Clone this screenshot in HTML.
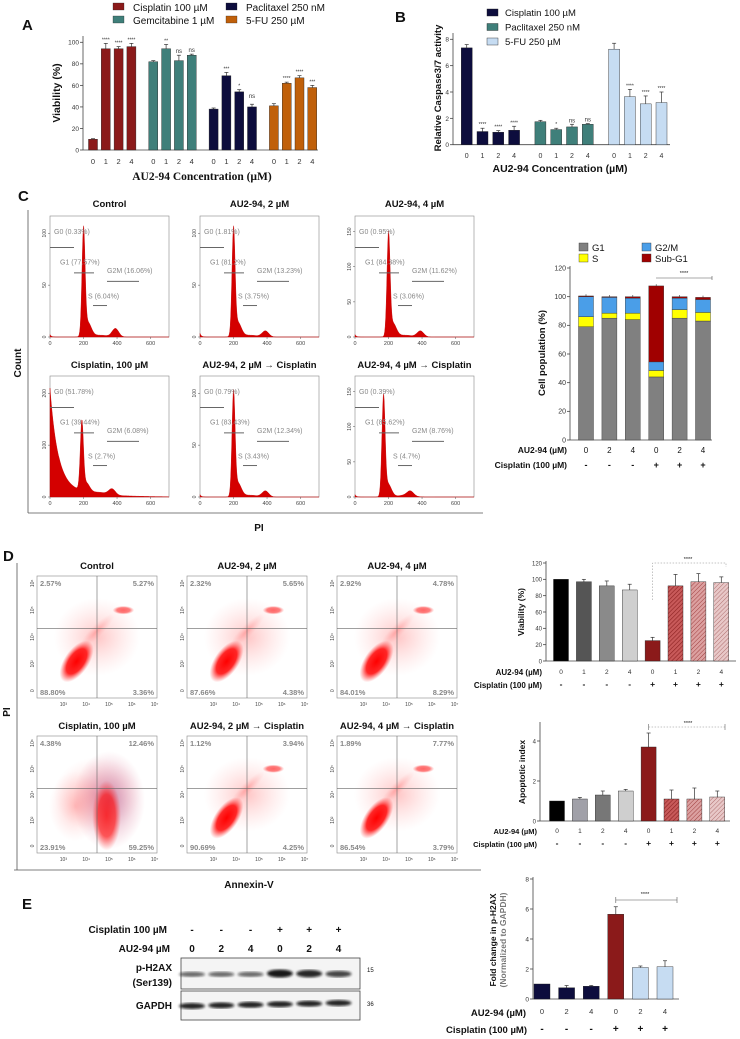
<!DOCTYPE html>
<html><head><meta charset="utf-8"><style>
body{margin:0;background:#fff}
svg{display:block;font-family:"Liberation Sans",Arial,sans-serif}
</style></head><body>
<svg id="fig" width="740" height="1039" viewBox="0 0 740 1039" xmlns="http://www.w3.org/2000/svg">
<defs>
<pattern id="hatch1" width="3" height="3" patternUnits="userSpaceOnUse" patternTransform="rotate(45)"><rect width="3" height="3" fill="#c85a5a"/><line x1="0" y1="0" x2="0" y2="3" stroke="#8b2020" stroke-width="1.2"/></pattern>
<pattern id="hatch2" width="3" height="3" patternUnits="userSpaceOnUse" patternTransform="rotate(45)"><rect width="3" height="3" fill="#dca0a0"/><line x1="0" y1="0" x2="0" y2="3" stroke="#a04040" stroke-width="1"/></pattern>
<pattern id="hatch3" width="3" height="3" patternUnits="userSpaceOnUse" patternTransform="rotate(45)"><rect width="3" height="3" fill="#e8c8c8"/><line x1="0" y1="0" x2="0" y2="3" stroke="#b07070" stroke-width="1"/></pattern>
<radialGradient id="blob"><stop offset="0" stop-color="#ff0000" stop-opacity="1"/><stop offset="0.6" stop-color="#ff1010" stop-opacity="0.9"/><stop offset="1" stop-color="#ff4040" stop-opacity="0"/></radialGradient>
<radialGradient id="haze"><stop offset="0" stop-color="#ff3030" stop-opacity="0.28"/><stop offset="1" stop-color="#ff8080" stop-opacity="0"/></radialGradient>
<radialGradient id="purp"><stop offset="0" stop-color="#a04a8a" stop-opacity="0.6"/><stop offset="1" stop-color="#e06080" stop-opacity="0"/></radialGradient>
<filter id="blur1"><feGaussianBlur stdDeviation="1.3"/></filter>
</defs>
</svg>
<script>
// ---------- DATA ----------
const concA = ["0","1","2","4"];
const seriesA = ["Cisplatin 100 µM","Gemcitabine 1 µM","Paclitaxel 250 nM","5-FU 250 µM"];
const cisA = [10,94,94,96], gemA = [82,94,83,88], pacA = [38,69,54,40], fuA = [41,62,67,58];
const errA = [[0.5,5,2,3],[1,4,5,1],[1,3,2,2.5],[2,1,2,2]];
const sigA = [["","****","****","****"],["","**","ns","ns"],["","***","*","ns"],["","****","****","***"]];
const ticksA = [0,20,40,60,80,100];

const seriesB = ["Cisplatin 100 µM","Paclitaxel 250 nM","5-FU 250 µM"];
const cisB = [7.35,1.0,0.95,1.1], pacB = [1.75,1.15,1.35,1.55], fuB = [7.25,3.65,3.1,3.2];
const errB = [[0.25,0.25,0.12,0.3],[0.1,0.1,0.2,0.05],[0.45,0.55,0.6,0.8]];
const sigB = [["","****","****","****"],["","*","ns","ns"],["","****","****","****"]];
const ticksB = [0,2,4,6,8];

const popAU = ["0","2","4","0","2","4"], popCis = ["-","-","-","+","+","+"];
const popG1 = [79,85,84,44,85,83], popS = [7,3.5,4.5,4.5,6,6], popG2 = [14,11,10.5,6,8,9], popSub = [0.5,0.5,1,53,1,1.5];
const ticksPop = [0,20,40,60,80,100,120];

const histTitles = ["Control","AU2-94, 2 µM","AU2-94, 4 µM","Cisplatin, 100 µM","AU2-94, 2 µM → Cisplatin","AU2-94, 4 µM → Cisplatin"];
const histG0 = [0.02,0.03,0.02,0.78,0.02,0.02];
const histG1pos = [200,200,200,190,200,170];
const histG1h = [0.86,0.86,0.82,0.55,0.83,0.8];
const histG2h = [0.07,0.05,0.05,0.05,0.05,0.04];
const histLabels = [["G0 (0.33%)","G1 (77.57%)","G2M (16.06%)","S (6.04%)"],["G0 (1.81%)","G1 (81.2%)","G2M (13.23%)","S (3.75%)"],["G0 (0.95%)","G1 (84.38%)","G2M (11.62%)","S (3.06%)"],["G0 (51.78%)","G1 (39.44%)","G2M (6.08%)","S (2.7%)"],["G0 (0.79%)","G1 (83.43%)","G2M (12.34%)","S (3.43%)"],["G0 (0.39%)","G1 (85.62%)","G2M (8.76%)","S (4.7%)"]];
const histYTicks = [["0","50","100"],["0","50","100"],["0","50","100","150"],["0","100","200"],["0","50","100"],["0","50","100","150"]];
const histXTicks = ["0","200","400","600"];

const scatTitles = ["Control","AU2-94, 2 µM","AU2-94, 4 µM","Cisplatin, 100 µM","AU2-94, 2 µM → Cisplatin","AU2-94, 4 µM → Cisplatin"];
const scatQ = [["2.57%","5.27%","88.80%","3.36%"],["2.32%","5.65%","87.66%","4.38%"],["2.92%","4.78%","84.01%","8.29%"],["4.38%","12.46%","23.91%","59.25%"],["1.12%","3.94%","90.69%","4.25%"],["1.89%","7.77%","86.54%","3.79%"]];
const scatXTicks = ["10³","10⁴","10⁵","10⁶","10⁷"];

const viaAU = ["0","1","2","4","0","1","2","4"], viaCis = ["-","-","-","-","+","+","+","+"];
const viaD = [100,97,92,87,25,92,97,96], viaErr = [0,3,6,7,4,14,10,7];
const ticksViaD = [0,20,40,60,80,100,120];
const apoD = [1.0,1.1,1.3,1.5,3.7,1.1,1.1,1.2], apoErr = [0,0.08,0.2,0.08,0.7,0.45,0.55,0.3];
const ticksApo = [0,2,4];

const foldAU = ["0","2","4","0","2","4"], foldCis = ["-","-","-","+","+","+"];
const foldE = [1.0,0.75,0.85,5.65,2.1,2.15], foldErr = [0,0.15,0.05,0.5,0.1,0.4];
const ticksFold = [0,2,4,6,8];
const blotPH2AX = [0.45,0.45,0.45,1,0.9,0.7];
const blotGAPDH = [0.9,0.9,0.9,0.9,0.9,0.9];

// ---------- HELPERS ----------
const NS="http://www.w3.org/2000/svg";
const svg=document.getElementById('fig');
function mk(tag,attrs,parent){const e=document.createElementNS(NS,tag);for(const k in attrs)e.setAttribute(k,attrs[k]);(parent||svg).appendChild(e);return e;}
function txt(x,y,s,size,opts,parent){opts=opts||{};const e=mk('text',{x:x,y:y,'font-size':size,fill:opts.fill||'#111','font-weight':opts.bold?'bold':'normal','text-anchor':opts.anchor||'start','font-family':opts.serif?'"Liberation Serif",serif':'"Liberation Sans",sans-serif'},parent);if(opts.rot)e.setAttribute('transform','rotate('+opts.rot+' '+x+' '+y+')');e.textContent=s;return e;}
function line(x1,y1,x2,y2,st,w,parent){return mk('line',{x1:x1,y1:y1,x2:x2,y2:y2,stroke:st||'#333','stroke-width':w||0.8},parent);}

function yAxis(g,x,yfun,ticks,top,size){
  line(x,yfun(ticks[0]),x,top,'#444',0.8,g);
  ticks.forEach(t=>{const y=yfun(t);line(x-3,y,x,y,'#444',0.8,g);const l=txt(x-4,y+2.4,String(t),size||6,{anchor:'end',fill:'#333'},g);});
}
function bar(g,cx,w,v,yfun,fill,err,name){
  const y=yfun(v), y0=yfun(0);
  if(err){line(cx,y,cx,yfun(v+err),'#333',0.7,g);line(cx-2,yfun(v+err),cx+2,yfun(v+err),'#333',0.7,g);}
  const r=mk('rect',{x:cx-w/2,y:y,width:w,height:y0-y,fill:fill,stroke:'#222','stroke-width':0.4},g);
  
  
  return r;
}
function group(name){const g=mk('g',{});return g;}

// ---------- PANEL A ----------
(function(){
  const g=group('panel-a');
  txt(22,30,'A',15,{bold:true},g);
  const y0=150, k=107.7/100; const Y=v=>y0-v*k;
  yAxis(g,83,Y,ticksA,36,6.5);
  line(83,y0,318,y0,'#444',0.8,g);
  const data=[cisA,gemA,pacA,fuA], cols=['#8b1a1a','#3f7f7a','#0d0d3d','#c0600a'];
  const xA=(gi,i)=>93+gi*60.3+i*12.8;
  data.forEach((arr,gi)=>arr.forEach((v,i)=>{
    bar(g,xA(gi,i),9,v,Y,cols[gi],errA[gi][i],'bar-a-'+gi+'-'+i);
    if(sigA[gi][i]){const ns=sigA[gi][i]=='ns';const s=txt(xA(gi,i),Y(v+errA[gi][i])-(gi==2&&i==3?6:2),sigA[gi][i],ns?6:5,{anchor:'middle',fill:'#333'},g);}
    const l=txt(xA(gi,i),164,concA[i],7.5,{anchor:'middle',fill:'#333'},g);
  }));
  const t=txt(202,180,'AU2-94 Concentration (µM)',11.5,{bold:true,anchor:'middle',serif:true},g);
  const yt=txt(60,93,'Viability (%)',10.5,{bold:true,anchor:'middle',rot:-90},g);
  const lp=[[113,2],[113,15],[226,2],[226,15]];
  seriesA.forEach((s,i)=>{const r=mk('rect',{x:lp[i][0],y:lp[i][1]+1,width:11,height:7,fill:cols[i],stroke:'#222','stroke-width':0.3},g);const l=txt(lp[i][0]+20,lp[i][1]+9,s,10,{},g);});
})();

// ---------- PANEL B ----------
(function(){
  const g=group('panel-b');
  txt(395,22,'B',15,{bold:true},g);
  const y0=144.7,k=105.4/8;const Y=v=>y0-v*k;
  yAxis(g,453,Y,ticksB,33,6.5);
  line(453,y0,670,y0,'#444',0.8,g);
  const data=[cisB,pacB,fuB], cols=['#0d0d3d','#3f7f7a','#c6dcf2'];
  const xB=(gi,i)=>466.7+gi*73.7+i*15.8;
  data.forEach((arr,gi)=>arr.forEach((v,i)=>{
    bar(g,xB(gi,i),11,v,Y,cols[gi],errB[gi][i],'bar-b-'+gi+'-'+i);
    if(sigB[gi][i]){const s=txt(xB(gi,i),Y(v+errB[gi][i])-2,sigB[gi][i],sigB[gi][i]=='ns'?6:5,{anchor:'middle',fill:'#333'},g);}
    const l=txt(xB(gi,i),158,concA[i],7,{anchor:'middle',fill:'#333'},g);
  }));
  const t=txt(560,172,'AU2-94 Concentration (µM)',10.5,{bold:true,anchor:'middle'},g);
  const yt=txt(441,88,'Relative Caspase3/7 activity',9.5,{bold:true,anchor:'middle',rot:-90},g);
  seriesB.forEach((s,i)=>{const r=mk('rect',{x:487,y:9+i*14.5,width:11,height:7,fill:cols[i],stroke:'#222','stroke-width':0.4},g);const l=txt(505,16+i*14.5,s,9.5,{},g);});
})();

// ---------- PANEL C HISTOGRAMS ----------
(function(){
  const g=group('panel-c-histograms');
  txt(18,201,'C',15,{bold:true},g);
  line(28,210,28,513,'#555',0.8,g);line(28,513,483,513,'#555',0.8,g);
  const c=txt(21,363,'Count',10,{bold:true,anchor:'middle',rot:-90},g);
  const p=txt(259,531,'PI',10,{bold:true,anchor:'middle'},g);
  const fx=[50,200,355], fy=[[216,337],[376,497]];
  histTitles.forEach((tt,idx)=>{
    const row=Math.floor(idx/3), col=idx%3;
    const L=fx[col],R=L+119,T=fy[row][0],B=fy[row][1];
    const h=group('histogram-'+idx); g.appendChild(h);
    mk('rect',{x:L,y:T,width:R-L,height:B-T,fill:'none',stroke:'#888','stroke-width':0.6},h);
    const ti=txt((L+R)/2,T-(row?8:9),tt,9.5,{bold:true,anchor:'middle'},h);
    const X=v=>L+v/710*(R-L), H=B-T;
    let d='M'+L+','+B;
    for(let v=0;v<=700;v+=3){
      let y=histG0[idx]*Math.exp(-v/(idx==3?45:8));
      if(idx==3) y+=0.12*Math.exp(-v/180);
      y+=histG1h[idx]*Math.exp(-Math.pow((v-histG1pos[idx])/13,2));
      y+=0.14*histG1h[idx]*Math.exp(-Math.pow((v-histG1pos[idx]-25)/30,2));
      y+=histG2h[idx]*Math.exp(-Math.pow((v-2*histG1pos[idx]+10)/28,2));
      y+=0.015*Math.exp(-Math.pow((v-300)/60,2));
      d+=' L'+X(v).toFixed(1)+','+(B-y*H).toFixed(1);
    }
    d+=' L'+R+','+B+'Z';
    const pa=mk('path',{d:d,fill:'#d40000',stroke:'#c00000','stroke-width':0.4},h);
    histXTicks.forEach(t=>{const x=X(+t);line(x,B,x,B+2,'#555',0.5,h);txt(x,B+8,t,5.5,{anchor:'middle',fill:'#444'},h);});
    const yt=histYTicks[idx];
    yt.forEach((t,i)=>{const y=B-(i/(yt.length-0.9))*H*0.9;line(L-2,y,L,y,'#555',0.5,h);txt(L-4,y,t,5,{anchor:'middle',fill:'#444',rot:-90},h);});
    const lb=histLabels[idx];
    txt(L+4,T+H*0.15,lb[0],7,{fill:'#888'},h);line(L,T+H*0.26,L+24,T+H*0.26,'#666',1,h);
    txt(L+10,T+H*0.4,lb[1],7,{fill:'#888'},h);line(L+24,T+H*0.47,L+44,T+H*0.47,'#666',1,h);
    txt(L+57,T+H*0.47,lb[2],7,{fill:'#888'},h);line(L+57,T+H*0.54,L+89,T+H*0.54,'#666',1,h);
    txt(L+38,T+H*0.68,lb[3],7,{fill:'#888'},h);line(L+43,T+H*0.74,L+57,T+H*0.74,'#666',1,h);
  });
})();

// ---------- PANEL C STACKED ----------
(function(){
  const g=group('panel-c-cell-population');
  const y0=440,k=(440-268)/120;const Y=v=>y0-v*k;
  yAxis(g,570,Y,ticksPop,266,7);
  line(570,y0,712,y0,'#444',0.8,g);
  const xc=i=>586+i*23.4;
  const cols=['#808080','#ffff00','#4a9ee8','#a00000'];
  popG1.forEach((v,i)=>{
    let base=0;[popG1[i],popS[i],popG2[i],popSub[i]].forEach((s,j)=>{
      const r=mk('rect',{x:xc(i)-7.5,y:Y(base+s),width:15,height:s*k,fill:cols[j],stroke:'#333','stroke-width':0.4},g);
      
      
      base+=s;});
    line(xc(i),Y(base),xc(i),Y(base+1.2),'#333',0.6,g);
    txt(xc(i),453,popAU[i],8,{anchor:'middle'},g);
    txt(xc(i),468,popCis[i],9,{anchor:'middle',bold:true},g);
  });
  txt(567,453,'AU2-94 (µM)',8.5,{anchor:'end',bold:true},g);
  txt(567,468,'Cisplatin (100 µM)',8.5,{anchor:'end',bold:true},g);
  line(656,278,712,278,'#555',0.6,g);line(712,276,712,280,'#555',0.6,g);
  txt(684,275,'****',5.5,{anchor:'middle'},g);
  const yt=txt(545,353,'Cell population (%)',9.5,{bold:true,anchor:'middle',rot:-90},g);
  const names=['G1','S','G2/M','Sub-G1'],lp=[[579,243],[579,254],[642,243],[642,254]];
  names.forEach((n,i)=>{const r=mk('rect',{x:lp[i][0],y:lp[i][1],width:9,height:8,fill:cols[i],stroke:'#333','stroke-width':0.4},g);const l=txt(lp[i][0]+13,lp[i][1]+8,n,9.5,{},g);});
})();

// ---------- PANEL D SCATTER ----------
(function(){
  const g=group('panel-d-flow');
  txt(3,561,'D',15,{bold:true},g);
  line(17,563,17,870,'#555',0.8,g);line(14,870,481,870,'#555',0.8,g);
  const p=txt(10,712,'PI',10,{bold:true,anchor:'middle',rot:-90},g);
  const a=txt(249,888,'Annexin-V',10,{bold:true,anchor:'middle'},g);
  const fx=[37,187,337],fy=[[576,698],[736,853]];
  scatTitles.forEach((tt,idx)=>{
    const row=Math.floor(idx/3),col=idx%3;
    const L=fx[col],R=L+120,T=fy[row][0],B=fy[row][1],W=R-L,H=B-T;
    const h=group('scatter-'+idx);g.appendChild(h);
    mk('rect',{x:L,y:T,width:W,height:H,fill:'#fff',stroke:'#888','stroke-width':0.6},h);
    const ti=txt(L+W*0.5,T-7,tt,9.5,{bold:true,anchor:'middle'},h);
    const cx=L+W*0.33,cy=T+H*0.7;
    mk('ellipse',{cx:L+W*0.5,cy:T+H*0.5,rx:W*0.36,ry:H*0.32,fill:'url(#haze)'},h);
    if(idx==3){
      mk('ellipse',{cx:L+W*0.6,cy:T+H*0.55,rx:W*0.3,ry:H*0.42,fill:'url(#purp)'},h);
      mk('ellipse',{cx:L+W*0.32,cy:T+H*0.6,rx:W*0.22,ry:H*0.3,fill:'url(#haze)'},h);
      mk('ellipse',{cx:L+W*0.58,cy:T+H*0.68,rx:W*0.12,ry:H*0.3,fill:'url(#blob)',opacity:0.75},h);
    }else{
      mk('ellipse',{cx:cx,cy:cy,rx:W*0.2,ry:H*0.1,fill:'url(#blob)',transform:'rotate(-55 '+cx+' '+cy+')'},h);
      mk('ellipse',{cx:L+W*0.5,cy:T+H*0.45,rx:W*0.2,ry:H*0.05,fill:'url(#haze)',transform:'rotate(-45 '+(L+W*0.5)+' '+(T+H*0.45)+')'},h);
      mk('ellipse',{cx:L+W*0.72,cy:T+H*0.28,rx:W*0.09,ry:H*0.035,fill:'url(#blob)',opacity:0.6},h);
    }
    const vx=L+W*0.5,hy=T+H*(row?0.45:0.43);
    line(vx,T,vx,B,'#666',0.6,h);line(L,hy,R,hy,'#666',0.6,h);
    const q=scatQ[idx];
    txt(L+3,T+10,q[0],7.5,{fill:'#888',bold:true},h);txt(R-3,T+10,q[1],7.5,{fill:'#888',bold:true,anchor:'end'},h);
    txt(L+3,B-3,q[2],7.5,{fill:'#888',bold:true},h);txt(R-3,B-3,q[3],7.5,{fill:'#888',bold:true,anchor:'end'},h);
    scatXTicks.forEach((t,i)=>{const x=L+W*(0.22+i*0.19);txt(x,B+8,t,5,{anchor:'middle',fill:'#444'},h);});
    ['0','10²','10⁴','10⁵','10⁶'].forEach((t,i)=>{const y=B-H*(0.06+i*0.22);txt(L-3,y,t,5,{anchor:'middle',fill:'#444',rot:-90},h);});
  });
})();

// ---------- PANEL D VIABILITY ----------
const fillsD=['#000','#555','#8a8a8a','#cfcfcf','#8b1a1a','url(#hatch1)','url(#hatch2)','url(#hatch3)'];
(function(){
  const g=group('panel-d-viability');
  const y0=661,k=98/120;const Y=v=>y0-v*k;
  yAxis(g,546,Y,ticksViaD,561,6);
  line(546,y0,736,y0,'#444',0.8,g);
  const xc=i=>561+i*22.9;
  viaD.forEach((v,i)=>{bar(g,xc(i),15,v,Y,fillsD[i],viaErr[i],'bar-viability-'+i);txt(xc(i),674,viaAU[i],6.5,{anchor:'middle',fill:'#333'},g);txt(xc(i),687,viaCis[i],8.5,{anchor:'middle',bold:true},g);});
  txt(542,675,'AU2-94 (µM)',8,{anchor:'end',bold:true},g);
  txt(542,688,'Cisplatin (100 µM)',8,{anchor:'end',bold:true},g);
  mk('path',{d:'M'+xc(4)+',600 L'+xc(4)+',563 L726,563 L726,567',fill:'none',stroke:'#888','stroke-width':0.5,'stroke-dasharray':'1.5,1.5'},g);
  txt(688,561,'****',5.5,{anchor:'middle'},g);
  const yt=txt(524,612,'Viability (%)',8.5,{bold:true,anchor:'middle',rot:-90},g);
})();

// ---------- PANEL D APOPTOTIC ----------
(function(){
  const g=group('panel-d-apoptotic');
  const y0=821,k=20;const Y=v=>y0-v*k;
  yAxis(g,540,Y,ticksApo,722,6);
  line(540,y0,730,y0,'#444',0.8,g);
  const xc=i=>557+i*22.9;
  const fills=['#000','#a0a0a8','#777','#cfcfcf','#8b1a1a','url(#hatch1)','url(#hatch2)','url(#hatch3)'];
  apoD.forEach((v,i)=>{bar(g,xc(i),15,v,Y,fills[i],apoErr[i],'bar-apoptotic-'+i);txt(xc(i),833,viaAU[i],6.5,{anchor:'middle',fill:'#333'},g);txt(xc(i),846,viaCis[i],8.5,{anchor:'middle',bold:true},g);});
  txt(537,834,'AU2-94 (µM)',7.5,{anchor:'end',bold:true},g);
  txt(537,847,'Cisplatin (100 µM)',7.5,{anchor:'end',bold:true},g);
  line(xc(4),727,725,727,'#888',0.5,g).setAttribute('stroke-dasharray','1.5,1.5');
  line(xc(4),724,xc(4),730,'#666',0.6,g);line(725,724,725,730,'#666',0.6,g);
  txt(688,725,'****',5.5,{anchor:'middle'},g);
  const yt=txt(525,772,'Apoptotic index',8.5,{bold:true,anchor:'middle',rot:-90},g);
})();

// ---------- PANEL E BLOT ----------
(function(){
  const g=group('panel-e-blot');
  txt(22,909,'E',15,{bold:true},g);
  txt(167,933,'Cisplatin 100 µM',10,{anchor:'end',bold:true},g);
  txt(170,952,'AU2-94 µM',10,{anchor:'end',bold:true},g);
  const lane=i=>192+i*29.3;
  blotPH2AX.forEach((v,i)=>{txt(lane(i),933,foldCis[i],10,{anchor:'middle',bold:true},g);txt(lane(i),952,foldAU[i],10,{anchor:'middle',bold:true},g);});
  mk('rect',{x:181,y:958,width:179,height:31,fill:'#f4f4f4',stroke:'#444','stroke-width':0.8},g);
  mk('rect',{x:181,y:991,width:179,height:29,fill:'#f4f4f4',stroke:'#444','stroke-width':0.8},g);
  blotPH2AX.forEach((v,i)=>{const e=mk('ellipse',{cx:lane(i),cy:975-v*1.5,rx:13,ry:1.5+v*2.5,fill:'#111',opacity:0.3+v*0.65,filter:'url(#blur1)'},g);});
  blotGAPDH.forEach((v,i)=>{const e=mk('ellipse',{cx:lane(i),cy:1006-i*0.6,rx:13,ry:3,fill:'#111',opacity:v,filter:'url(#blur1)'},g);});
  txt(172,971,'p-H2AX',10,{anchor:'end',bold:true},g);
  txt(172,986,'(Ser139)',10,{anchor:'end',bold:true},g);
  txt(172,1009,'GAPDH',10,{anchor:'end',bold:true},g);
  txt(367,972,'15',6,{},g);txt(367,1006,'36',6,{},g);
})();

// ---------- PANEL E CHART ----------
(function(){
  const g=group('panel-e-fold-change');
  const y0=999,k=15;const Y=v=>y0-v*k;
  yAxis(g,533,Y,ticksFold,877,6.5);
  line(533,y0,679,y0,'#444',0.8,g);
  const cols=['#0d0d3d','#0d0d3d','#0d0d3d','#8b1a1a','#c6dcf2','#c6dcf2'];
  const xc=i=>542+i*24.6;
  foldE.forEach((v,i)=>{bar(g,xc(i),16,v,Y,cols[i],foldErr[i],'bar-fold-'+i);txt(xc(i),1014,foldAU[i],7.5,{anchor:'middle',fill:'#333'},g);txt(xc(i),1032,foldCis[i],10,{anchor:'middle',bold:true},g);});
  txt(526,1016,'AU2-94 (µM)',9.5,{anchor:'end',bold:true},g);
  txt(527,1033,'Cisplatin (100 µM)',9.5,{anchor:'end',bold:true},g);
  line(xc(3),900,677,900,'#555',0.6,g);line(xc(3),897,xc(3),903,'#555',0.6,g);line(677,897,677,903,'#555',0.6,g);
  txt(645,896,'****',5.5,{anchor:'middle'},g);
  const y1=txt(496,940,'Fold change in p-H2AX',8.5,{bold:true,anchor:'middle',rot:-90},g);
  const y2=txt(506,940,'(Normalized to GAPDH)',8.5,{bold:true,anchor:'middle',rot:-90,fill:'#777'},g);
})();
</script>
</body></html>
